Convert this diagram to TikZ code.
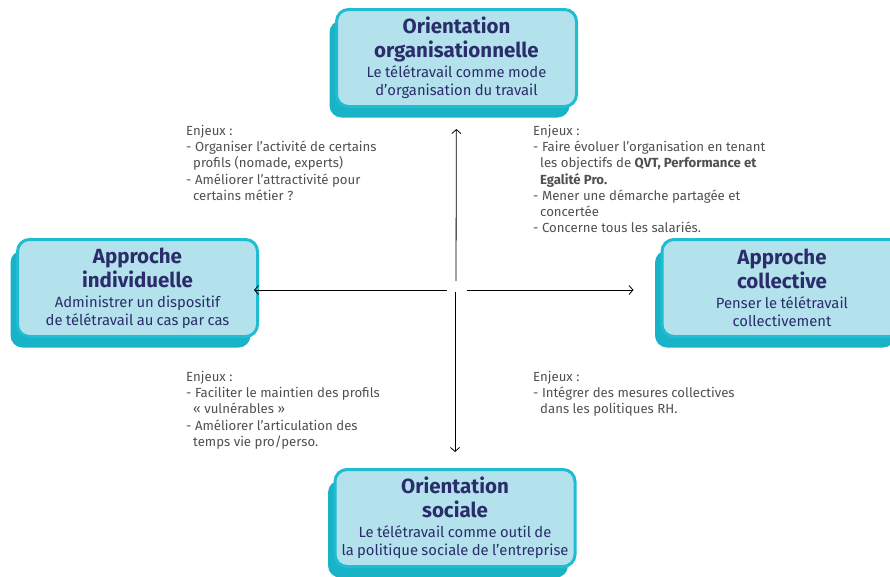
\documentclass[tikz,border=0pt]{standalone}
\usepackage{fontspec}
\setmainfont{Fira Sans}
\usetikzlibrary{arrows.meta,shadows}
\definecolor{fond}{HTML}{B3E2EC}
\definecolor{bord}{HTML}{1FBCD2}
\definecolor{ombre}{HTML}{19B3C7}
\definecolor{marine}{HTML}{2B2D6B}
\definecolor{gris}{HTML}{505050}
\tikzset{
  boite/.style={draw=bord, line width=3pt, fill=fond, rounded corners=12pt,
    minimum width=240pt, minimum height=97pt, text width=236pt, align=center,
    text=marine, inner sep=0pt,
    drop shadow={shadow xshift=-7pt, shadow yshift=-11pt, fill=ombre, opacity=1}},
  enjeux/.style={anchor=north west, align=left, text=gris, inner sep=0pt,
    font=\fontsize{13.2}{16.2}\selectfont},
}
\newcommand{\titre}[1]{{\fontsize{20.5}{24}\selectfont\bfseries #1\par}\vspace{2pt}}
\newcommand{\soustitre}[1]{{\fontsize{14.8}{18}\selectfont #1\par}}
\begin{document}
\begin{tikzpicture}[x=1pt,y=-1pt,>={Straight Barb[length=4pt,width=9pt]}]
    \useasboundingbox (0,0) rectangle (890,576);
    \node[boite] (haut) at (456.5,58) {\titre{Orientation\\organisationnelle}\soustitre{Le télétravail comme mode\\d’organisation du travail}};
    \node[boite] (gauche) at (137.5,288) {\titre{Approche\\individuelle}\soustitre{Administrer un dispositif\\de télétravail au cas par cas}};
    \node[boite] (droite) at (782,288) {\titre{Approche\\collective}\soustitre{Penser le télétravail\\collectivement}};
    \node[boite] (bas) at (455,518) {\titre{Orientation\\sociale}\soustitre{Le télétravail comme outil de\\la politique sociale de l’entreprise}};

    \node[enjeux] (e1) at (186,125) {Enjeux :\\- Organiser l’activité de certains\\\hspace*{7pt}profils (nomade, experts)\\- Améliorer l’attractivité pour\\\hspace*{7pt}certains métier ?};
    \node[enjeux] (e2) at (533,125) {Enjeux :\\- Faire évoluer l’organisation en tenant\\\hspace*{7pt}les objectifs de \textbf{QVT, Performance et}\\\hspace*{7pt}\textbf{Egalité Pro.}\\- Mener une démarche partagée et\\\hspace*{7pt}concertée\\- Concerne tous les salariés.};
    \node[enjeux] (e3) at (186,371) {Enjeux :\\- Faciliter le maintien des profils\\\hspace*{7pt}« vulnérables »\\- Améliorer l’articulation des\\\hspace*{7pt}temps vie pro/perso.};
    \node[enjeux] (e4) at (533,371) {Enjeux :\\- Intégrer des mesures collectives\\\hspace*{7pt}dans les politiques RH.};

    \coordinate (cH) at (456,281);
    \coordinate (cB) at (455,292);
    \coordinate (cG) at (447,290);
    \coordinate (cD) at (467,290);
    \path [->, line width=0.8pt] (cH) edge[shorten >=21pt] (haut);
    \path [->, line width=0.8pt] (cB) edge[shorten >=16pt] (bas);
    \path [->, line width=0.8pt] (cG) edge[shorten >=-5pt] (gauche.east |- cG);
    \path [->, line width=0.8pt] (cD) edge[shorten >=27pt] (droite.west |- cD);
\end{tikzpicture}
\end{document}
